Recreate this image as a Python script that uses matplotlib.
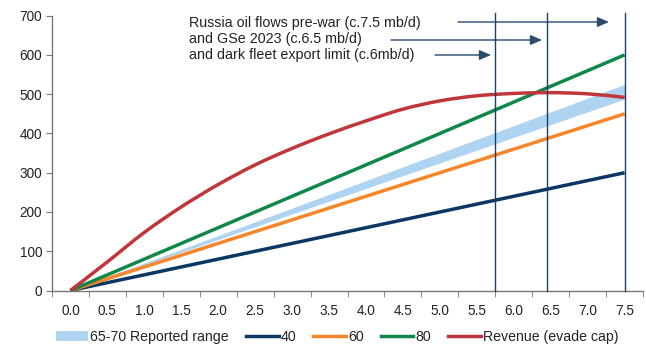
import matplotlib
matplotlib.use("Agg")
import matplotlib.pyplot as plt
import numpy as np
from matplotlib.patches import Patch, PathPatch
from matplotlib.path import Path
from matplotlib.lines import Line2D

plt.rcParams['font.family'] = ['Liberation Sans', 'DejaVu Sans']

# Data
volumes = [0.0, 0.5, 1.0, 1.5, 2.0, 2.5, 3.0, 3.5, 4.0, 4.5, 5.0, 5.5, 6.0, 6.5, 7.0, 7.5]
tick_labels = [f"{v:.1f}" for v in volumes]
band_low_price = 65
band_high_price = 70
price_40 = 40
price_60 = 60
price_80 = 80
revenue = [0, 73, 148, 213, 270, 320, 362, 399, 432, 462, 483, 496, 502, 504, 501, 492]
marker_positions = [11.5, 12.9, 15.0]  # category-index positions of vertical markers
annotation = ["Russia oil flows pre-war (c.7.5 mb/d)",
              "and GSe 2023 (c.6.5 mb/d)",
              "and dark fleet export limit (c.6mb/d)"]

vol = np.array(volumes)
idx = np.arange(len(volumes))

c_band = "#AFD4F1"
c_40 = "#0B3765"
c_60 = "#F7862A"
c_80 = "#10884A"
c_rev = "#C0363A"
c_vline = "#1D3F66"


def smooth_path(xs, ys, tension=1 / 6):
    """Excel-like smoothed line: Catmull-Rom segments rendered as cubic Beziers."""
    pts = np.column_stack([xs, ys]).astype(float)
    n = len(pts)
    verts = [pts[0]]
    codes = [Path.MOVETO]
    for i in range(n - 1):
        p0 = pts[i - 1] if i > 0 else pts[i]
        p1 = pts[i]
        p2 = pts[i + 1]
        p3 = pts[i + 2] if i + 2 < n else pts[i + 1]
        c1 = p1 + (p2 - p0) * tension
        c2 = p2 - (p3 - p1) * tension
        verts += [c1, c2, p2]
        codes += [Path.CURVE4] * 3
    return Path(verts, codes)


fig = plt.figure(figsize=(6.46, 3.48), dpi=100)
ax = fig.add_axes([0.0805, 0.1652, 0.9149, 0.7897])

ax.fill_between(idx, band_low_price * vol, band_high_price * vol, color=c_band, lw=0, zorder=1)
ax.plot(idx, price_40 * vol, color=c_40, lw=2.5, zorder=2, solid_capstyle='butt')
ax.plot(idx, price_60 * vol, color=c_60, lw=2.5, zorder=2, solid_capstyle='butt')
ax.plot(idx, price_80 * vol, color=c_80, lw=2.5, zorder=2, solid_capstyle='butt')
ax.add_patch(PathPatch(smooth_path(idx, revenue), facecolor='none', edgecolor=c_rev,
                       lw=2.5, zorder=3, capstyle='butt'))

for p in marker_positions:
    ax.plot([p, p], [0, 708], color=c_vline, lw=1.0, zorder=4, clip_on=False)

ax.set_xlim(-0.5, len(volumes) - 0.5)
ax.set_ylim(0, 700)
ax.set_yticks(range(0, 701, 100))
ax.set_xticks(idx)
ax.set_xticklabels(tick_labels)
ax.set_xticks(np.arange(-0.5, len(volumes), 1.0), minor=True)
ax.tick_params(axis='x', which='major', length=0, pad=10, labelsize=9.8, colors='#222222')
ax.tick_params(axis='x', which='minor', length=4, direction='out', color='#777777')
ax.tick_params(axis='y', length=4, direction='out', color='#777777', labelsize=9.8,
               labelcolor='#222222', pad=3)
for s in ['top', 'right']:
    ax.spines[s].set_visible(False)
for s in ['left', 'bottom']:
    ax.spines[s].set_color('#777777')
    ax.spines[s].set_linewidth(1.0)

# annotation text
ax.text(189 / 646, 1 - 39 / 348, "\n".join(annotation), transform=fig.transFigure,
        fontsize=10.3, va='center', ha='left', linespacing=1.18, color='#222222')
# arrows (figure pixel coords)
arrows = [(458, 609, 22), (391, 542, 40), (435, 491, 55)]
for x0, x1, y in arrows:
    ax.annotate("", xy=(x1 / 646, 1 - y / 348), xytext=(x0 / 646, 1 - y / 348),
                xycoords=fig.transFigure, textcoords=fig.transFigure,
                arrowprops=dict(arrowstyle='-|>,head_length=0.7,head_width=0.3',
                                color='#2A4A6E', lw=1.0, shrinkA=0, shrinkB=0))

handles = [Patch(facecolor=c_band, edgecolor='none'),
           Line2D([], [], color=c_40, lw=2.5),
           Line2D([], [], color=c_60, lw=2.5),
           Line2D([], [], color=c_80, lw=2.5),
           Line2D([], [], color=c_rev, lw=2.5)]
labels = ["65-70 Reported range", "40", "60", "80", "Revenue (evade cap)"]
leg = fig.legend(handles, labels, loc='center', bbox_to_anchor=(337 / 646, 1 - 337 / 348),
                 ncol=5, frameon=False, fontsize=10.2, handlelength=2.3, handleheight=0.8,
                 handletextpad=0.15, columnspacing=1.2, borderpad=0)
for t in leg.get_texts():
    t.set_color('#222222')

fig.savefig("out.png", dpi=100)
